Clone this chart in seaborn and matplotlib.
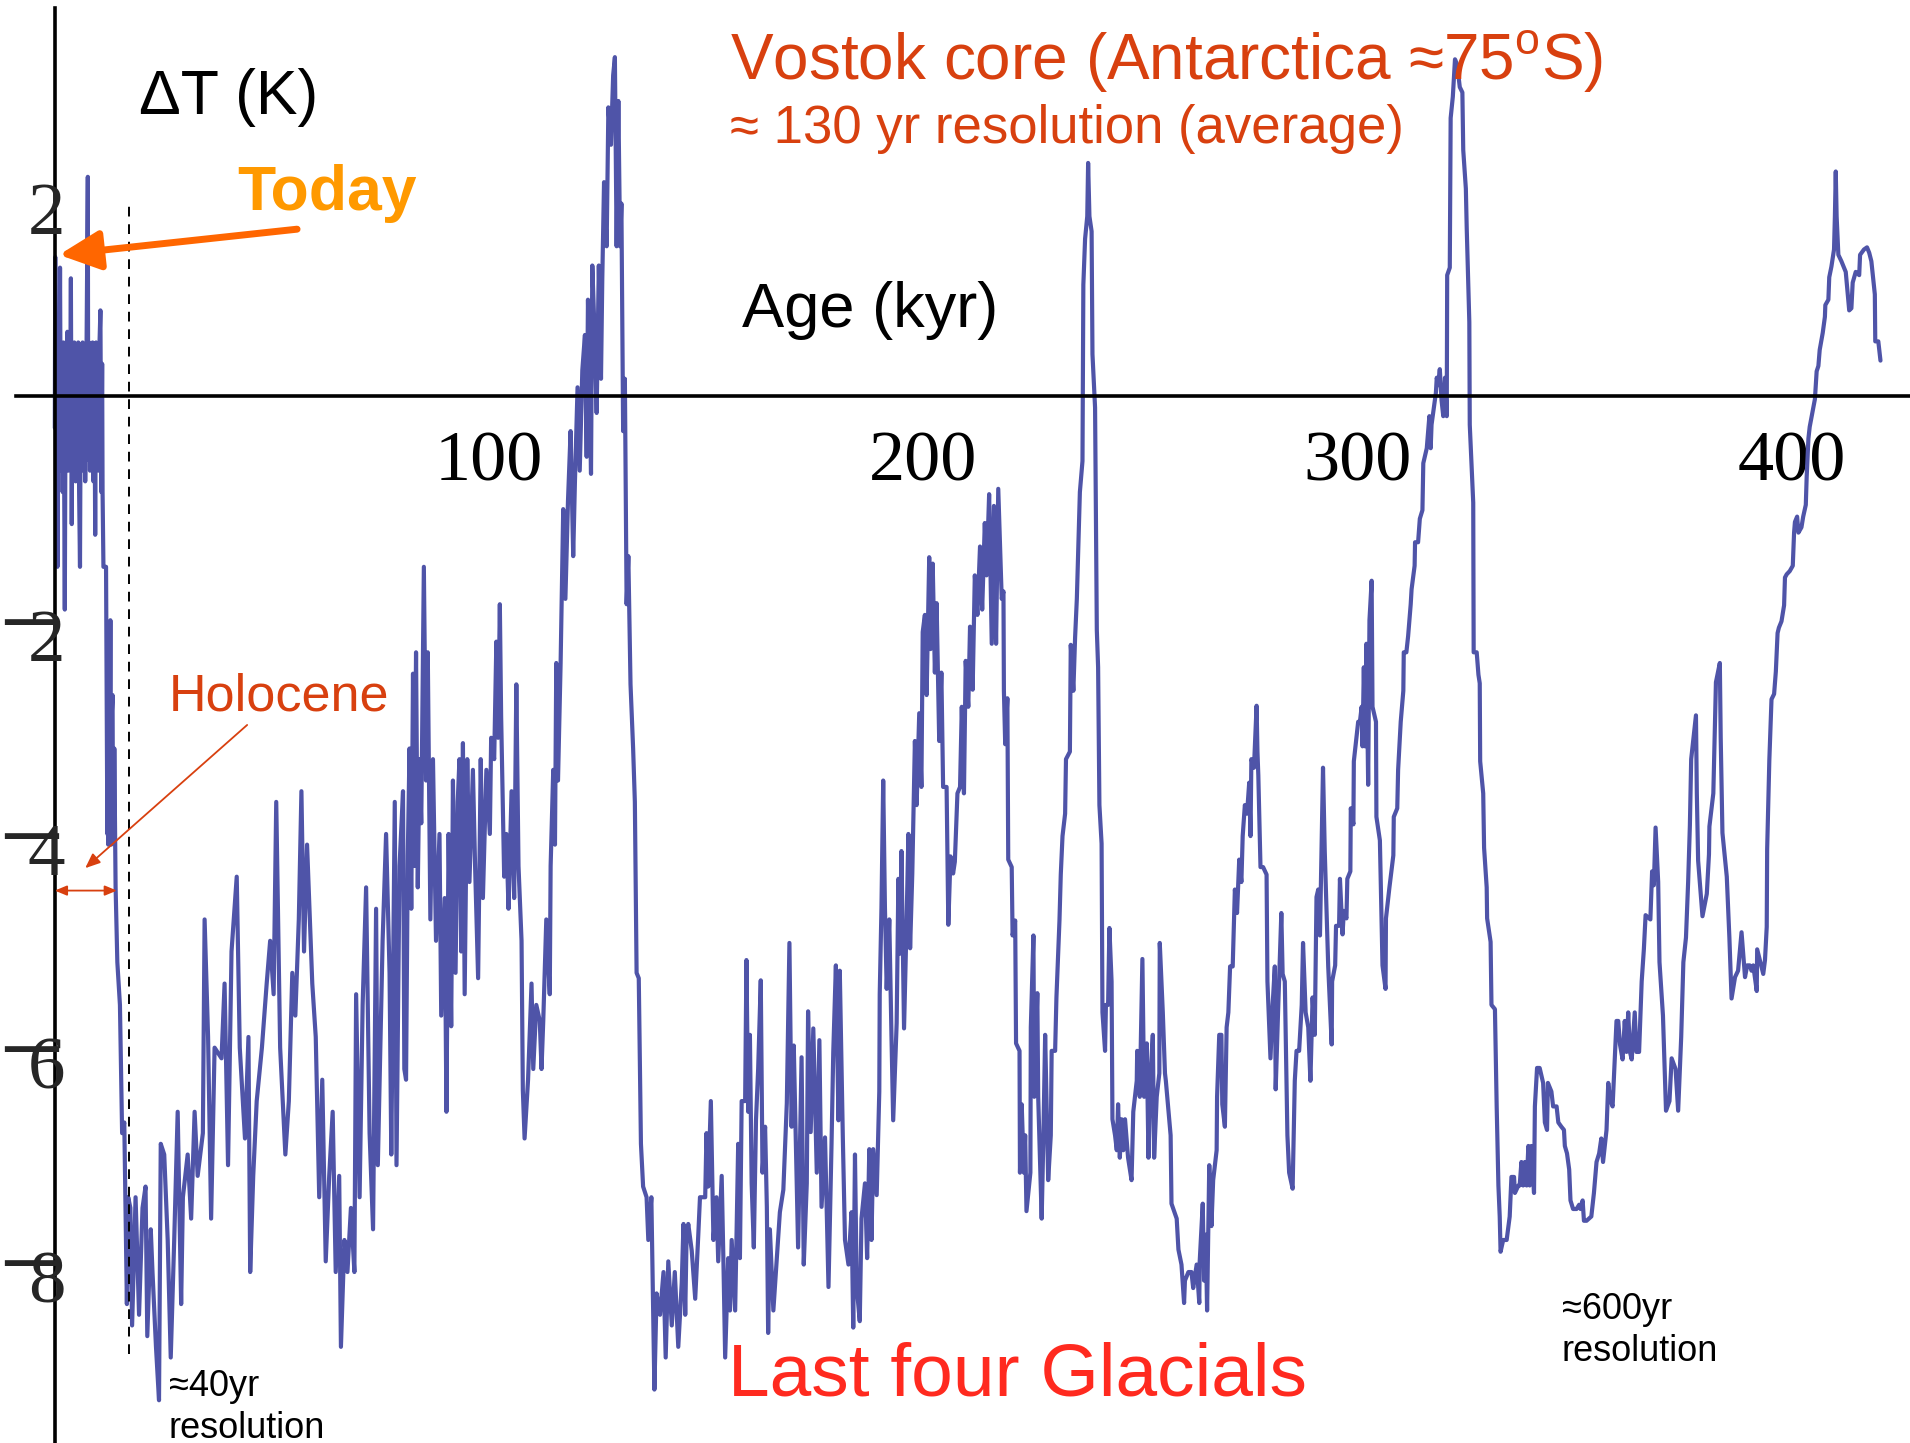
import numpy as np
import pandas as pd
import seaborn as sns
import matplotlib.pyplot as plt
from matplotlib.ticker import MultipleLocator

# Vostok core temperature anomaly (age in kyr, dT in K)
age_holocene = [0.0, 0.1, 0.3, 0.5, 0.6, 0.8, 1.0, 1.2, 1.4, 1.6, 1.8, 2.0, 2.3, 2.5, 2.7, 2.9, 3.1, 3.3,
                3.5, 3.7, 3.9, 4.1, 4.3, 4.5, 4.8, 5.0, 5.2, 5.4, 5.6, 5.8, 6.0, 6.2, 6.4, 6.6, 6.8, 7.0,
                7.3, 7.6, 7.7, 7.9, 8.1, 8.3, 8.5, 8.7, 8.9, 9.1, 9.3, 9.5, 9.7, 9.9, 10.1, 10.3, 10.5,
                10.7, 10.9, 11.0, 11.2, 11.8, 11.9, 12.0, 12.1, 12.2, 12.3, 12.5, 12.6, 12.8, 12.9,
                13.0, 13.1, 13.3, 13.4, 13.6, 13.7, 13.9, 14.0, 14.4, 15.0, 15.5, 16.0, 16.6, 16.9]
dt_holocene = [-0.3, 1.3, -1.0, 0.5, -1.6, 0.3, -0.5, 1.2, -0.7, 0.4, -0.9, 0.5, -2.0, 0.3, -0.6, 0.6,
               -0.7, 0.5, -0.4, 1.1, -1.2, 0.4, -0.6, 0.5, -0.8, 0.4, -0.5, 0.5, -0.9, -1.6, 0.4, -0.6,
               0.5, -0.7, 0.3, -0.8, 0.4, 2.05, -0.6, 0.5, -0.7, 0.4, -0.5, 0.5, -0.8, 0.4, -1.3, 0.5,
               -0.6, 0.4, -0.7, 0.5, 0.8, -0.9, 0.3, -0.9, -1.6, -1.6, -2.4, -3.0, -4.1, -3.3, -4.2,
               -3.2, -4.1, -2.1, -3.9, -4.2, -3.0, -2.8, -4.0, -4.1, -3.3, -4.2, -4.6, -5.3, -5.7,
               -6.9, -6.8, -8.5, -7.5]

age_glacial1 = [17.4, 17.8, 18.6, 19.4, 20.2, 20.9, 21.3, 22.1, 22.5, 23.3, 24.0, 24.4, 25.2, 26.0,
                26.7, 27.5, 28.3, 29.1, 29.5, 30.6, 31.4, 32.2, 32.9, 34.1, 34.5, 35.3, 36.0, 36.8,
                38.4, 39.1, 39.9, 40.7, 41.9, 42.6, 43.8, 44.6, 45.0, 45.7, 46.5, 47.7, 48.8, 49.6,
                50.4, 51.0, 51.9, 53.1, 53.9, 54.7, 55.4, 56.2, 56.8, 57.4, 58.1, 59.3, 60.1, 60.9,
                61.6, 62.4, 63.2, 64.0, 64.7, 65.5, 65.9, 66.7, 67.4, 68.2, 69.0, 69.4, 70.2, 70.9]
dt_glacial1 = [-7.6, -8.7, -7.5, -8.6, -7.6, -7.4, -8.8, -7.8, -8.2, -8.9, -9.4, -7.0, -7.1, -7.9,
               -9.0, -7.9, -6.7, -8.5, -7.5, -7.1, -7.7, -6.7, -7.3, -6.9, -4.9, -6.0, -7.7, -6.1,
               -6.2, -5.5, -7.2, -5.2, -4.5, -6.1, -6.95, -6.0, -8.2, -7.3, -6.6, -6.1, -5.5, -5.1,
               -5.6, -3.8, -6.1, -7.1, -6.6, -5.4, -5.8, -4.9, -3.7, -5.2, -4.2, -5.5, -6.0, -7.5,
               -6.4, -8.1, -7.3, -6.7, -8.2, -7.3, -8.9, -7.9, -8.2, -7.6, -8.2, -5.6, -7.5, -5.7]

age_glacial2 = [71.7, 72.5, 73.3, 74.0, 74.4, 75.5, 76.3, 77.1, 77.5, 78.3, 78.7, 79.4, 80.2, 80.5,
                80.9, 81.3, 81.7, 82.1, 82.5, 82.8, 83.2, 83.6, 84.0, 84.4, 85.0, 85.5, 85.9, 86.5,
                87.1, 87.8, 88.6, 89.0, 89.8, 90.2, 90.7, 91.3, 91.7, 92.3, 92.8, 93.2, 93.6, 94.0,
                94.4, 95.0, 95.5, 96.3, 96.8, 97.5, 98.1, 98.6, 99.4, 100.2, 100.5, 101.2, 101.7,
                102.1, 102.5, 102.8, 103.5, 104.0, 104.5, 105.2, 105.8, 106.3, 106.8, 107.5, 107.8,
                108.2, 109.0, 109.8, 110.2, 110.9, 111.7, 112.1, 112.5, 113.2, 114.0, 114.2, 114.8,
                115.2, 115.5, 115.9, 116.5, 117.1, 117.6, 118.2, 118.8, 119.4, 119.8, 120.4, 120.9,
                121.5, 122.1, 122.5, 122.8, 123.5, 123.8, 124.4, 124.8, 125.3, 125.8, 126.1, 126.5,
                127.1, 127.5, 128.1, 128.6, 129.0, 129.4, 129.8, 130.2, 130.5, 130.9, 131.3, 131.7,
                132.1, 132.6, 133.2, 133.6, 134.0, 134.5, 135.0, 135.5, 136.3, 136.7, 137.4, 138.1,
                138.6, 139.4, 140.2, 140.7, 141.3, 142.1, 142.8, 143.6]
dt_glacial2 = [-4.6, -6.9, -7.8, -4.8, -7.2, -5.1, -4.1, -5.4, -7.1, -3.8, -7.2, -4.4, -3.7, -6.3,
               -6.4, -4.3, -3.3, -4.8, -2.6, -4.4, -2.4, -4.6, -3.4, -4.0, -1.6, -3.6, -2.4, -4.9,
               -3.4, -5.1, -4.1, -5.8, -4.7, -6.7, -4.1, -5.9, -3.6, -5.4, -3.8, -3.4, -5.2, -3.25,
               -5.6, -3.4, -4.55, -3.5, -4.4, -5.45, -3.4, -4.7, -3.5, -4.1, -3.2, -3.4, -2.3,
               -3.2, -1.95, -3.0, -4.5, -4.1, -4.8, -3.7, -4.7, -2.7, -4.4, -5.1, -6.5,
               -6.95, -6.4, -5.5, -6.3, -5.7, -5.85, -6.3, -5.85, -4.9, -5.6, -4.4, -3.5,
               -4.2, -2.5, -3.6, -2.5, -1.06, -1.9, -0.98, -0.33, -1.5, -0.8, 0.08, -0.7,
               0.24, 0.57, -0.57, 0.9, -0.73, 1.22, 0.49, -0.16, 1.22, 0.16, 1.1, 2.0,
               1.4, 2.7, 2.35, 3.0, 3.17, 1.4, 2.76, 1.4, 1.8, -0.33, 0.16, -1.95,
               -1.5, -2.7, -3.3, -3.8, -5.4, -5.45, -7.0, -7.4, -7.5, -7.9, -7.5, -9.3,
               -8.4, -8.6, -8.2, -9.0, -8.1, -8.7, -8.2, -8.9]

age_glacial3 = [144.4, 144.8, 145.2, 145.5, 145.9, 146.7, 147.5, 148.2, 148.6, 149.8, 150.1, 150.5,
                151.1, 151.7, 152.4, 152.8, 153.6, 154.0, 154.4, 155.1, 155.5, 155.9, 156.7, 157.4,
                157.8, 158.2, 159.0, 159.3, 159.7, 160.1, 160.5, 161.0, 161.5, 162.0, 162.6, 163.0,
                163.6, 164.0, 164.3, 164.7, 165.5, 166.3, 167.0, 167.8, 168.6, 169.2, 169.7, 170.2,
                170.9, 171.2, 172.0, 172.5, 173.2, 173.5, 174.1, 174.7, 175.5, 176.1, 176.6, 177.4,
                178.2, 178.9, 179.3, 179.9, 180.5, 180.8, 181.5, 182.0, 182.8, 183.5, 183.9, 184.3,
                184.7, 185.4, 185.8, 186.6, 187.1, 187.6, 188.1, 188.5, 189.3, 189.9, 190.0, 190.4,
                190.8, 191.2, 191.6, 192.2, 192.7, 193.1, 193.9, 194.3, 194.7, 195.0, 195.6, 196.2,
                196.6, 197.0, 197.5, 198.1, 198.5, 199.1, 199.6, 199.9, 200.4, 200.8, 201.4, 201.7,
                202.2, 202.7, 203.1, 203.7, 204.2, 204.6, 205.4, 205.8, 206.3, 206.9, 207.3, 207.9,
                208.5, 208.9, 209.4, 209.8, 210.4, 210.8, 211.4, 211.9, 212.5, 213.1, 213.6, 214.2,
                214.6, 215.2, 215.8, 216.3, 216.8, 217.3]
dt_glacial3 = [-8.3, -7.75, -8.6, -7.9, -7.75, -8.0, -8.45, -7.86, -7.5, -7.5, -6.9, -7.4,
               -6.6, -7.9, -7.5, -8.1, -7.3, -8.1, -9.0, -8.07, -8.56, -7.9, -8.56, -7.0,
               -8.07, -6.6, -6.6, -5.28, -6.7, -5.98, -7.37, -7.97, -6.78, -6.3, -5.47, -7.27,
               -6.84, -7.59, -8.77, -7.8, -8.56, -8.07, -7.64, -7.43, -6.62, -5.12, -6.84, -6.08,
               -7.37, -7.97, -6.19, -8.13, -7.37, -5.76, -6.89, -5.92, -7.27, -6.03, -7.59, -6.94,
               -8.34, -7.0, -6.14, -5.33, -6.78, -5.38, -6.94, -7.9, -8.13, -7.64, -8.72, -7.1,
               -8.34, -8.66, -7.7, -7.37, -8.07, -7.05, -7.9, -7.05, -7.48, -6.51, -5.6, -4.79,
               -3.6, -4.79, -5.55, -4.9, -5.98, -6.78, -5.87, -4.52, -5.22, -4.26, -5.92, -4.9,
               -4.1, -5.17, -4.47, -3.23, -3.83, -2.97, -3.66, -2.21, -2.05, -2.8, -1.51, -2.37,
               -1.57, -2.59, -1.94, -3.23, -2.59, -3.66, -3.66, -4.95, -4.31, -4.47, -4.36, -3.72,
               -3.66, -2.91, -3.72, -2.48, -2.91, -2.16, -2.75, -1.68, -2.05, -1.41, -2.0, -1.19,
               -1.68, -0.92, -2.32, -1.03, -2.32, -0.87]

age_glacial4 = [218.1, 218.5, 218.6, 218.9, 219.4, 219.6, 220.4, 220.6, 221.2, 221.4, 222.2, 222.3,
                222.7, 223.2, 223.5, 223.8, 224.7, 224.8, 225.4, 225.6, 226.3, 226.5, 227.3, 227.7,
                228.1, 228.8, 229.4, 229.6, 230.4, 230.7, 231.4, 231.7, 232.1, 232.7, 232.9, 233.8,
                234.0, 234.6, 235.0, 235.4, 235.7, 236.1, 236.7, 236.9, 237.3, 237.8, 238.0, 238.3,
                238.8, 239.0, 239.6, 240.0, 240.3, 240.6, 241.1, 241.3, 241.9, 242.1, 242.6, 242.9,
                243.4, 243.6, 244.2, 244.6, 244.9, 245.3, 245.7, 246.1, 246.5, 247.2, 248.0, 248.4,
                249.2, 249.3, 249.9, 250.5, 250.9, 251.5, 251.9, 252.4, 252.9, 253.2, 253.8, 254.4,
                254.5, 255.2, 255.7, 255.9, 257.0, 257.2, 257.8, 258.4, 258.8, 259.5, 260.1, 260.3,
                261.1, 261.8, 262.2, 263.0, 263.6, 263.7, 264.4, 264.7, 265.1, 265.4, 265.9, 266.4,
                266.8, 267.6, 267.7, 268.2, 268.7, 268.9, 269.5, 269.9, 270.3, 270.7, 271.3, 271.8,
                272.3, 272.8, 273.3, 273.6, 274.1, 274.6, 275.1, 275.4, 275.6, 276.2, 276.8, 277.0,
                277.2, 277.7, 278.3, 279.1, 279.3, 280.0, 280.5, 281.0, 281.2, 281.8, 282.5, 282.8,
                283.3, 283.9, 284.3, 285.1, 285.6, 286.0, 286.6, 287.2, 287.5, 288.1, 288.7, 289.2,
                289.7, 290.2, 290.6, 291.0, 291.4, 291.8, 292.1, 292.5, 293.3]
dt_glacial4 = [-1.9, -1.83, -2.76, -3.26, -2.83, -4.34, -4.41, -5.05, -4.91, -6.06, -6.13, -7.27,
               -6.63, -7.27, -6.92, -7.63, -7.27, -5.91, -5.05, -6.56, -5.59, -6.56, -7.7, -6.92,
               -5.98, -7.34, -6.92, -6.13, -6.13, -5.63, -4.91, -4.48, -4.12, -3.91, -3.4, -3.33,
               -2.33, -2.76, -2.26, -1.9, -1.47, -0.9, -0.61, 1.04, 1.47, 1.68, 2.18, 1.68,
               1.54, 0.39, -0.11, -2.19, -2.54, -3.83, -4.19, -5.77, -6.13, -5.7, -5.7, -4.98,
               -5.48, -6.77, -6.92, -7.06, -6.63, -7.13, -6.77, -7.06, -6.77, -7.13, -7.34, -6.7,
               -6.41, -6.13, -6.56, -5.27, -6.56, -6.06, -7.13, -6.34, -5.98, -7.13, -6.56, -6.34,
               -5.12, -5.77, -6.34, -6.41, -6.92, -7.56, -7.63, -7.7, -7.99, -8.13, -8.49, -8.28,
               -8.2, -8.2, -8.35, -8.13, -8.49, -8.1, -7.56, -8.28, -7.85, -8.56, -7.2, -7.77,
               -7.34, -7.06, -6.56, -5.98, -5.98, -6.63, -6.84, -5.91, -5.77, -5.34, -5.34, -4.62,
               -4.84, -4.34, -4.55, -4.12, -3.83, -3.91, -3.62, -4.12, -3.4, -3.48, -2.9, -3.33,
               -3.55, -4.41, -4.41, -4.48, -5.48, -6.2, -5.7, -5.34, -6.49, -5.7, -4.84, -5.41,
               -5.48, -6.92, -7.27, -7.42, -6.41, -6.13, -6.13, -5.7, -5.12, -5.77, -5.91, -6.41,
               -5.63, -5.98, -4.69, -4.62, -5.05, -4.12, -3.48, -4.26, -5.34]

age_glacial5 = [294.1, 294.2, 294.9, 295.1, 295.8, 296.0, 296.6, 296.9, 297.5, 297.7, 298.4, 298.5,
                299.1, 299.2, 300.0, 300.2, 300.6, 301.0, 301.2, 301.5, 301.8, 302.1, 302.5, 302.8,
                303.3, 303.5, 304.3, 304.4, 305.2, 305.8, 306.5, 306.6, 307.4, 308.3, 308.4, 309.2,
                309.4, 310.0, 310.6, 310.7, 311.3, 311.7, 312.3, 312.5, 313.2, 313.3, 314.0, 314.4,
                315.0, 315.2, 316.0, 316.6, 316.9, 317.1, 317.6, 318.1, 318.3, 318.6, 319.0, 319.4,
                319.8, 320.2, 320.6, 320.7, 321.3, 321.5, 322.0, 322.5, 323.0, 323.6, 324.2, 324.4,
                325.0, 325.2, 325.8, 325.9, 326.7, 326.8, 327.5, 327.9, 328.2, 328.3, 329.0, 329.2,
                329.8, 329.9, 330.7, 330.9, 331.7, 332.1, 332.5, 332.8, 333.0, 333.6, 334.4, 335.1,
                335.5, 336.1, 336.3, 337.1, 337.4, 337.8, 338.2, 338.6, 339.0, 339.4, 339.7, 340.1,
                340.7, 340.9, 341.4, 342.0, 342.8, 343.2, 343.7, 343.9, 344.7, 345.1, 345.9, 346.3,
                347.0, 347.6, 347.8, 348.3, 348.8, 349.1, 349.7, 350.5, 351.1, 351.4, 351.9, 352.2,
                352.8, 353.9, 354.5, 355.1, 355.7, 356.2, 356.6, 357.4, 357.8, 358.2, 358.8, 359.3,
                359.7, 360.1, 360.5, 361.1, 361.6, 362.0, 362.4, 362.8, 363.2, 363.9, 364.3, 364.9,
                365.5]
dt_glacial5 = [-6.07, -5.48, -5.33, -4.96, -4.96, -4.52, -5.04, -4.82, -4.89, -4.52, -4.45, -3.86,
               -4.01, -3.42, -3.13, -3.05, -3.05, -2.91, -3.28, -2.54, -3.28, -2.32, -3.64, -2.1,
               -1.73, -2.91, -3.05, -3.94, -4.16, -5.33, -5.55, -4.89, -4.6, -4.3, -3.94, -3.86,
               -3.5, -3.05, -2.76, -2.4, -2.4, -2.25, -1.95, -1.81, -1.59, -1.37, -1.37, -1.15,
               -1.07, -0.63, -0.49, -0.19, -0.49, -0.27, -0.12, 0.03, 0.17, 0.1, 0.25, -0.04,
               -0.19, 0.17, -0.19, 1.13, 1.2, 2.6, 2.8, 3.15, 3.1, 2.89, 2.84, 2.3,
               1.94, 1.57, 0.69, -0.27, -1.0, -2.4, -2.4, -2.61, -2.69, -3.42, -3.72, -4.23,
               -4.6, -4.89, -5.11, -5.7, -5.74, -6.65, -7.39, -7.68, -8.01, -7.9, -7.9, -7.68,
               -7.31, -7.31, -7.46, -7.39, -7.39, -7.17, -7.39, -7.17, -7.39, -7.02, -7.39, -7.02,
               -7.46, -6.65, -6.29, -6.29, -6.43, -6.8, -6.87, -6.43, -6.51, -6.65, -6.65, -6.8,
               -6.84, -6.87, -7.02, -7.09, -7.24, -7.53, -7.61, -7.61, -7.57, -7.61, -7.53, -7.72,
               -7.72, -7.68, -7.46, -7.17, -7.09, -6.95, -7.17, -6.87, -6.43, -6.58, -6.65, -6.21,
               -5.85, -5.85, -6.07, -6.21, -5.85, -6.14, -5.77, -6.14, -6.21, -5.77, -6.14, -6.14,
               -5.48]

age_glacial6 = [366.0, 366.4, 367.5, 367.9, 368.3, 368.7, 369.3, 369.6, 370.4, 371.1, 371.9, 372.4,
                373.3, 373.9, 374.6, 375.1, 375.7, 376.2, 376.6, 376.9, 378.0, 378.2, 378.5, 379.5,
                380.5, 381.0, 381.1, 382.0, 382.6, 383.5, 383.7, 384.1, 385.1, 385.7, 386.2, 387.0,
                387.7, 388.5, 389.3, 389.8, 390.4, 390.8, 391.2, 392.0, 392.1, 392.7, 393.5, 393.9,
                394.3, 394.4, 394.9, 395.4, 396.0, 396.4, 396.8, 397.1, 397.7, 398.3, 398.5, 398.9,
                399.6, 400.3, 400.6, 400.8, 401.3, 401.6, 402.3, 402.7, 403.3, 403.5, 403.9, 404.2,
                404.9, 405.4, 405.8, 406.2, 406.5, 407.2, 407.7, 407.8, 408.5, 408.7, 409.2, 409.8,
                410.0, 410.2, 410.4, 410.8, 411.5, 412.5, 413.3, 413.8, 414.1, 414.8, 415.6, 415.8,
                416.7, 417.4, 417.9, 418.4, 419.2, 419.3, 420.0, 420.5]
dt_glacial6 = [-5.18, -4.86, -4.9, -4.45, -4.58, -4.04, -4.55, -5.3, -5.8, -6.69, -6.6, -6.2,
               -6.3, -6.69, -6.0, -5.3, -5.07, -4.55, -4.02, -3.4, -2.99, -3.72, -4.35, -4.87,
               -4.66, -4.29, -4.03, -3.72, -2.68, -2.5, -3.2, -4.09, -4.5, -5.07, -5.64, -5.44,
               -5.38, -5.02, -5.44, -5.33, -5.33, -5.38, -5.33, -5.57, -5.18, -5.28, -5.41, -5.28,
               -4.97, -4.24, -3.41, -2.84, -2.79, -2.58, -2.22, -2.17, -2.11, -1.96, -1.7, -1.67,
               -1.64, -1.59, -1.28, -1.18, -1.13, -1.28, -1.23, -1.13, -1.02, -0.76, -0.4, -0.29,
               -0.14, -0.03, 0.23, 0.28, 0.43, 0.59, 0.74, 0.85, 0.9, 1.11, 1.21, 1.37,
               1.68, 2.1, 1.68, 1.32, 1.26, 1.16, 0.8, 0.82, 1.06, 1.16, 1.13, 1.32,
               1.37, 1.39, 1.34, 1.26, 0.95, 0.51, 0.51, 0.33]

x_ticks = [100, 200, 300, 400]
x_tick_labels = ['100', '200', '300', '400']
y_ticks = [-8, -6, -4, -2, 2]

segments = [(age_holocene, dt_holocene), (age_glacial1, dt_glacial1), (age_glacial2, dt_glacial2),
            (age_glacial3, dt_glacial3), (age_glacial4, dt_glacial4), (age_glacial5, dt_glacial5),
            (age_glacial6, dt_glacial6)]
df = pd.concat([pd.DataFrame({'age': a, 'dT': t}) for a, t in segments], ignore_index=True)

sns.set_style('white')
plt.rcParams['font.family'] = ['Liberation Sans', 'DejaVu Sans']
plt.rcParams['mathtext.fontset'] = 'custom'
plt.rcParams['mathtext.rm'] = 'Liberation Sans'

line_col = '#4F54A8'
title_col = '#D8400F'

fig = plt.figure(figsize=(19.1, 14.43), dpi=100)
ax = fig.add_axes([16 / 1910, 0, 1894 / 1910, 1435 / 1443])

sns.lineplot(data=df, x='age', y='dT', ax=ax, estimator=None, sort=False,
             color=line_col, linewidth=3.0)

ax.set_xlim(-8.94, 427.3)
ax.set_ylim(-9.80, 3.63)
ax.set_xlabel('')
ax.set_ylabel('')
ax.spines['left'].set_position(('data', 0))
ax.spines['bottom'].set_position(('data', 0))
ax.spines['top'].set_visible(False)
ax.spines['right'].set_visible(False)
for s in ('left', 'bottom'):
    ax.spines[s].set_linewidth(2.6)
    ax.spines[s].set_color('black')

ax.set_xticks(x_ticks, labels=x_tick_labels)
ax.xaxis.set_minor_locator(MultipleLocator(20))
ax.tick_params(axis='x', which='major', direction='in', length=13, width=1.6, pad=25,
               colors='black', labelsize=52)
ax.tick_params(axis='x', which='minor', direction='in', length=6.5, width=1.6, colors='black')
for lbl in ax.get_xticklabels():
    lbl.set_fontfamily('Liberation Serif')

ax.set_yticks(y_ticks)
ax.yaxis.set_minor_locator(MultipleLocator(0.5))
ax.tick_params(axis='y', which='major', direction='in', length=10, width=1.6, labelleft=False,
               colors='black')
ax.tick_params(axis='y', which='minor', direction='in', length=5.8, width=1.6, colors='black')

# y labels drawn by hand: the digit sits on the axis and the minus runs into it
for v in y_ticks:
    ax.text(2.4, v, str(abs(v)), ha='right', va='top', family='Liberation Serif', fontsize=54)
    if v < 0:
        ax.text(2.0, v - 0.22, '\u2212', ha='right', va='center', family='Liberation Serif',
                fontsize=84)

# labels and notes
ax.text(19.4, 2.64, '\u0394T (K)', fontsize=45, color='black')
ax.text(42.0, 1.74, 'Today', fontsize=45, fontweight='bold', color='#FF9900')
ax.annotate('', xy=(0.97, 1.32), xytext=(55.8, 1.56),
            arrowprops=dict(arrowstyle='-|>,head_length=0.5,head_width=0.24', lw=5,
                            color='#FF6600', mutation_scale=50, shrinkA=0, shrinkB=0))

ax.text(155.5, 2.97, 'Vostok core (Antarctica \u224875$^{\\mathrm{o}}$S)', fontsize=46,
        color=title_col)
ax.text(155.5, 2.37, '\u2248 130 yr resolution (average)', fontsize=38, color=title_col)
ax.text(158.3, 0.64, 'Age (kyr)', fontsize=45.5, color='black')

ax.text(26.3, -2.94, 'Holocene', fontsize=37.5, color=title_col)
ax.annotate('', xy=(7.0, -4.42), xytext=(44.3, -3.08),
            arrowprops=dict(arrowstyle='-|>,head_length=0.6,head_width=0.25', lw=1.3,
                            color=title_col, mutation_scale=15, shrinkA=0, shrinkB=0))
ax.annotate('', xy=(0.0, -4.63), xytext=(14.3, -4.63),
            arrowprops=dict(arrowstyle='<|-|>,head_length=0.6,head_width=0.25', lw=1.3,
                            color=title_col, mutation_scale=12, shrinkA=0, shrinkB=0))

dash_x = 17.1
ax.plot([dash_x, dash_x], [-8.97, 1.83], color='black', lw=1.4, ls=(0, (5, 4)))

ax.text(26.3, -9.36, '\u224840yr', fontsize=26, color='black')
ax.text(26.3, -9.75, 'resolution', fontsize=26, color='black')
ax.text(347.1, -8.64, '\u2248600yr', fontsize=26, color='black')
ax.text(347.1, -9.03, 'resolution', fontsize=26, color='black')

ax.text(155.0, -9.36, 'Last four Glacials', fontsize=54, color='#FF2A1F')

fig.savefig('out.png', dpi=100)
